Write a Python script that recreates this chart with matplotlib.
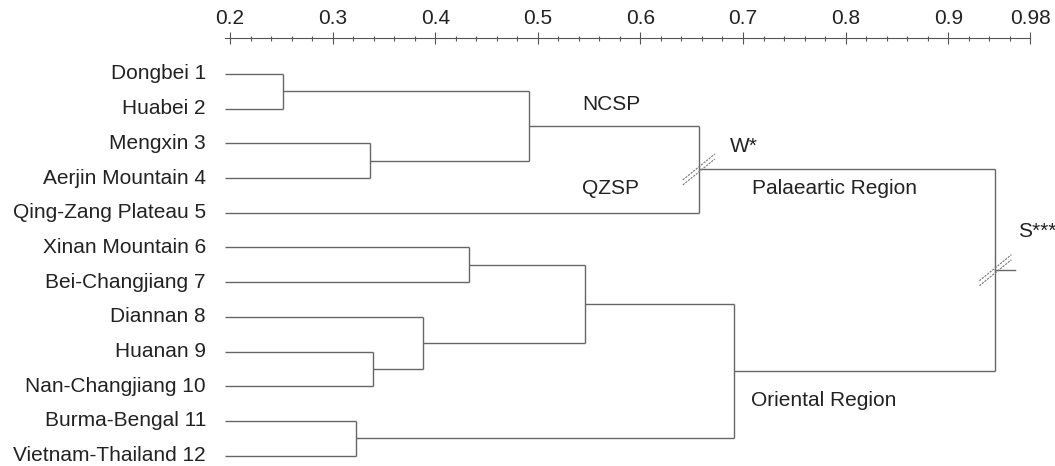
import matplotlib
matplotlib.use('Agg')
import matplotlib.pyplot as plt
from matplotlib.ticker import FixedLocator, FixedFormatter
from matplotlib.transforms import Affine2D

plt.rcParams['font.family'] = ['Liberation Sans', 'DejaVu Sans']

# Regions (leaves, top to bottom)
labels = ['Dongbei 1', 'Huabei 2', 'Mengxin 3', 'Aerjin Mountain 4', 'Qing-Zang Plateau 5',
          'Xinan Mountain 6', 'Bei-Changjiang 7', 'Diannan 8', 'Huanan 9',
          'Nan-Changjiang 10', 'Burma-Bengal 11', 'Vietnam-Thailand 12']

# Clustering steps: (child a, child b, similarity level); new nodes numbered from 12
merge_a = [0, 2, 12, 14, 5, 8, 7, 16, 10, 19, 15]
merge_b = [1, 3, 13, 4, 6, 9, 17, 18, 11, 20, 21]
merge_level = [0.252, 0.336, 0.491, 0.657, 0.433, 0.339, 0.388, 0.546, 0.323, 0.691, 0.946]

major_ticks = [0.2, 0.3, 0.4, 0.5, 0.6, 0.7, 0.8, 0.9, 0.98]
major_labels = ['0.2', '0.3', '0.4', '0.5', '0.6', '0.7', '0.8', '0.9', '0.98']
minor_ticks = [0.22, 0.24, 0.26, 0.28, 0.32, 0.34, 0.36, 0.38, 0.42, 0.44, 0.46, 0.48,
               0.52, 0.54, 0.56, 0.58, 0.62, 0.64, 0.66, 0.68, 0.72, 0.74, 0.76, 0.78,
               0.82, 0.84, 0.86, 0.88, 0.92, 0.94, 0.96]

leaf_start = 0.195
line_col = '#666666'
text_col = '#222222'
fs = 15

fig = plt.figure(figsize=(10.55, 4.66), dpi=100)
ax = fig.add_axes([0, 0, 1, (466 - 38) / 466])
ax.set_xlim(-0.0242, 1.0041)
ax.set_ylim(11.297, -1.037)

# node positions
node_x = {i: leaf_start for i in range(len(labels))}
node_y = {i: float(i) for i in range(len(labels))}
for k, (a, b, h) in enumerate(zip(merge_a, merge_b, merge_level)):
    n = len(labels) + k
    for c in (a, b):
        ax.plot([node_x[c], h], [node_y[c], node_y[c]], color=line_col, lw=1.0,
                solid_capstyle='butt')
    ax.plot([h, h], [node_y[a], node_y[b]], color=line_col, lw=1.0, solid_capstyle='butt')
    node_x[n] = h
    node_y[n] = (node_y[a] + node_y[b]) / 2

# root stub
root = len(labels) + len(merge_a) - 1
ax.plot([node_x[root], node_x[root] + 0.019], [node_y[root], node_y[root]],
        color=line_col, lw=1.0)

for i, lab in enumerate(labels):
    ax.text(leaf_start - 0.0185, i, lab, ha='right', va='center', fontsize=fs, color=text_col)

# top scale
ax.spines['top'].set_bounds(leaf_start, 0.98)
ax.spines['top'].set_color('#555555')
ax.spines['top'].set_linewidth(0.8)
for s in ('left', 'right', 'bottom'):
    ax.spines[s].set_visible(False)
ax.xaxis.tick_top()
ax.xaxis.set_major_locator(FixedLocator(major_ticks))
ax.xaxis.set_major_formatter(FixedFormatter(major_labels))
ax.xaxis.set_minor_locator(FixedLocator(minor_ticks))
ax.tick_params(axis='x', which='major', direction='inout', length=8, width=0.8,
               color='#555555', pad=3, labelsize=fs, labelcolor=text_col)
ax.tick_params(axis='x', which='minor', direction='inout', length=3.6, width=0.8,
               color='#555555')
ax.set_yticks([])


def break_mark(x, y):
    # two short dashed parallel strokes across a branch
    fig.canvas.draw()
    px, py = ax.transData.transform((x, y))
    tr = Affine2D().translate(px, py)
    for off in (-2.5, 2.5):
        ax.plot([-16, 16], [-13 + off, 13 + off], transform=tr, color='#777777',
                lw=0.8, ls=(0, (2, 1)), clip_on=False)


break_mark(node_x[15], node_y[15])
break_mark(node_x[root], node_y[root])

ax.text(0.543, 0.865, 'NCSP', ha='left', va='center', fontsize=fs, color=text_col)
ax.text(0.543, 3.31, 'QZSP', ha='left', va='center', fontsize=fs, color=text_col)
ax.text(0.687, 2.10, 'W*', ha='left', va='center', fontsize=fs, color=text_col)
ax.text(0.709, 3.31, 'Palaeartic Region', ha='left', va='center', fontsize=fs, color=text_col)
ax.text(0.708, 9.415, 'Oriental Region', ha='left', va='center', fontsize=fs, color=text_col)
ax.text(0.968, 4.55, 'S***', ha='left', va='center', fontsize=fs, color=text_col)

fig.savefig('out.png', dpi=100)
